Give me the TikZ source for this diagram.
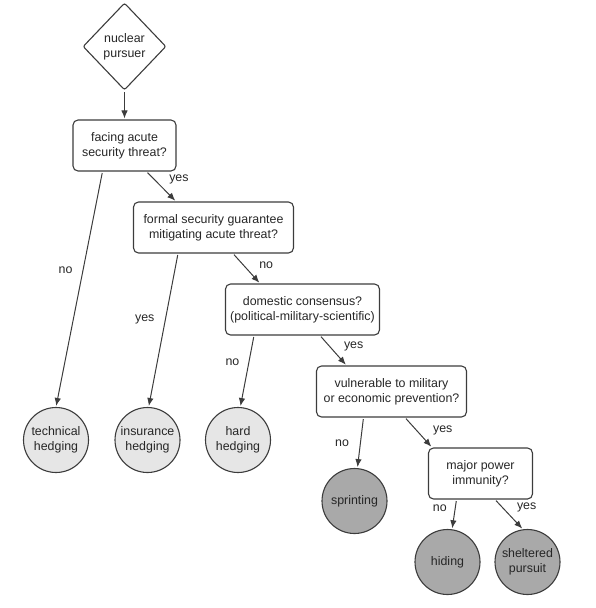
\documentclass[tikz,border=0pt]{standalone}
\usepackage{fontspec}
\setmainfont{Liberation Sans}
\usetikzlibrary{positioning}
\usetikzlibrary{shapes.geometric,arrows.meta}
\definecolor{linegray}{HTML}{3C3C3C}
\definecolor{lightleaf}{HTML}{E6E6E6}
\definecolor{darkleaf}{HTML}{A9A9A9}
\tikzset{
    >={Latex[length=8pt,width=6.5pt]}, % filled triangle heads
    every node/.style={font=\fontsize{12.4}{15}\selectfont, text=black!85},
    start/.style={diamond, draw=linegray, line width=1.1pt, rounded corners=2pt, minimum width=83pt, minimum height=87pt, inner sep=0pt, align=center},
    question/.style={draw=linegray, line width=1.1pt, rounded corners=5pt, minimum height=51pt, inner sep=0pt, align=center},
    outcome/.style={circle, draw=linegray, line width=1.1pt, fill=lightleaf, minimum size=65pt, inner sep=0pt, align=center},
    dark outcome/.style={outcome, fill=darkleaf},
    answer/.style={inner sep=0pt},
    every edge/.append style={->, draw=linegray, line width=1pt, shorten <=1.5pt, shorten >=1pt},
}
\begin{document}
\begin{tikzpicture}[x=1pt, y=-1pt, node distance=82pt and 89pt, on grid]
            \useasboundingbox (0,0) rectangle (596,608);

            \node[start] (root) at (124.5,46.5) {nuclear\\pursuer};

            % chain of questions
            \node[question, minimum width=103pt, below=99pt of root] (q1) {facing acute\\security threat?};
            \node[question, minimum width=160pt, below right=of q1] (q2) {formal security guarantee\\mitigating acute threat?};
            \node[question, minimum width=154pt, below right=of q2] (q3) {domestic consensus?\\(political-military-scientific)};
            \node[question, minimum width=150pt, below right=of q3] (q4) {vulnerable to military\\or economic prevention?};
            \node[question, minimum width=104pt, below right=of q4] (q5) {major power\\immunity?};

            % hedging outcomes
            \node[outcome, below left=294.5pt and 68.5pt of q1] (tech) {technical\\hedging};
            \node[outcome, below left=212.5pt and 66pt of q2] (ins) {insurance\\hedging};
            \node[outcome, below left=130.5pt and 64.5pt of q3] (hard) {hard\\hedging};

            % weapon outcomes
            \node[dark outcome, below left=109.5pt and 37pt of q4] (sprint) {sprinting};
            \node[dark outcome, below left=88.5pt and 33pt of q5] (hide) {hiding};
            \node[dark outcome, below right=88.5pt and 47pt of q5] (shelter) {sheltered\\pursuit};

            \draw
            (root) edge (q1)

            ([xshift=-22pt]q1.south) edge node[answer, pos=0.42, left=10pt] {no} (tech.north)
            ([xshift=22pt]q1.south) edge node[answer, pos=0.28, right=14pt] {yes} ([xshift=-37.5pt]q2.north)

            ([xshift=-35.5pt]q2.south) edge node[answer, pos=0.43, left=10.5pt] {yes} (ins.88.6)
            ([xshift=19.5pt]q2.south) edge node[answer, pos=0.4, right=15pt] {no} ([xshift=-42.5pt]q3.north)

            ([xshift=-48.5pt]q3.south) edge node[answer, pos=0.38, left=9pt] {no} (hard.86)
            ([xshift=17.5pt]q3.south) edge node[answer, pos=0.36, right=14pt] {yes} ([xshift=-45pt]q4.north)

            ([xshift=-28pt]q4.south) edge node[answer, pos=0.5, left=11pt] {no} (sprint.85)
            ([xshift=13.5pt]q4.south) edge node[answer, pos=0.43, right=16pt] {yes} ([xshift=-48.5pt]q5.north)

            ([xshift=-24pt]q5.south) edge node[answer, pos=0.3, left=8pt] {no} (hide.82.5)
            ([xshift=14.5pt]q5.south) edge node[answer, pos=0.27, right=14pt] {yes} (shelter.98.5)
            ;
\end{tikzpicture}
\end{document}
